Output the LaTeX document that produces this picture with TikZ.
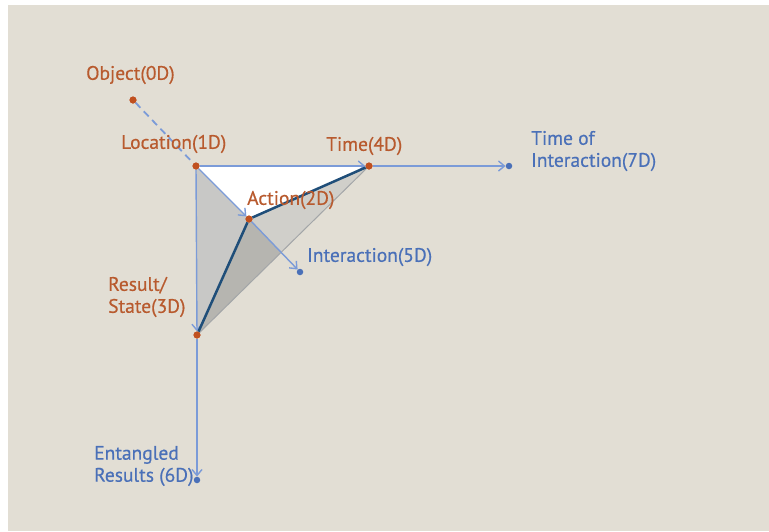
\documentclass[tikz,border=0pt]{standalone}
\usepackage{fontspec}
\setmainfont{PT Sans}
\newfontfamily\labelface{PT Sans}[FakeBold=0.5]
\usetikzlibrary{arrows.meta}

\definecolor{paper}{HTML}{E2DED4}
\definecolor{rust}{HTML}{B85A2E}
\definecolor{dotrust}{HTML}{C0501F}
\definecolor{axisblue}{HTML}{7B9BD8}
\definecolor{labelblue}{HTML}{4A70B8}
\definecolor{navy}{HTML}{1F4E79}
\definecolor{faceleft}{HTML}{C8C8C6}
\definecolor{faceright}{HTML}{D0CFCA}
\definecolor{facedeep}{HTML}{B6B5B0}
\definecolor{ridge}{HTML}{A3A6A8}

\tikzset{
  dim/.style={circle, fill=dotrust, inner sep=0pt, minimum size=7pt},
  outer/.style={circle, fill=labelblue, inner sep=0pt, minimum size=6.5pt},
  axis/.style={draw=axisblue, line width=1.4pt, -{Straight Barb[length=6pt,width=10pt,line width=1.4pt]}},
  edge/.style={draw=navy, line width=2.5pt},
  labelfont/.style={font=\labelface\fontsize{19.5}{22}\selectfont, inner sep=0pt, align=left},
  rustlabel/.style={labelfont, text=rust},
  bluelabel/.style={labelfont, text=labelblue},
}

\begin{document}
\begin{tikzpicture}[x=1pt, y=-1pt]
  \useasboundingbox (0,0) rectangle (769,531);
  \fill[white] (0,0) rectangle (769,531);
  \fill[paper] (8,5) rectangle (769,531);

  % points of the dimension diagram
  \coordinate (objP) at (133,100);
  \coordinate (locP) at (196,166);
  \coordinate (timeP) at (369,166);
  \coordinate (actP) at (249,219);
  \coordinate (resP) at (197,335);
  \coordinate (cross) at (281.1,252.4);

  % faces of the pyramid
  \fill[faceleft] (locP) -- (actP) -- (resP) -- cycle;
  \fill[faceright] (actP) -- (timeP) -- (cross) -- cycle;
  \fill[facedeep] (actP) -- (cross) -- (resP) -- cycle;
  \fill[white] (locP) -- (timeP) -- (actP) -- cycle;
  \draw[ridge, line width=1pt] (resP) -- (timeP);

  % dots
  \node[dim] (obj) at (objP) {};
  \node[dim] (loc) at (locP) {};
  \node[dim] (time) at (timeP) {};
  \node[dim] (act) at (actP) {};
  \node[dim] (res) at (resP) {};
  \node[outer] (inter) at (300,272) {};
  \node[outer] (toi) at (509,166) {};
  \node[outer] (ent) at (197,480) {};

  % axes
  \draw[draw=axisblue, line width=1.8pt, dash pattern=on 7pt off 5pt] (obj) -- (loc);
  \draw[axis] (loc) -- (time);
  \draw[axis] (time) -- (toi);
  \draw[axis] (loc) -- (act);
  \draw[axis] (act) -- (inter);
  \draw[axis] (loc) -- (res);
  \draw[axis] (res) -- (ent);

  % edges through the action point
  \draw[edge] (act) -- (time);
  \draw[edge] (act) -- (res);

  % dots again, above the lines
  \node[dim] at (objP) {};
  \node[dim] at (locP) {};
  \node[dim] at (timeP) {};
  \node[dim] at (actP) {};
  \node[dim] at (resP) {};

  % labels
  \node[rustlabel, anchor=west] (tObj) at (86,75) {Object(0D)};
  \node[rustlabel, anchor=west] (tLoc) at (121,144) {Location(1D)};
  \node[rustlabel, anchor=west] (tTime) at (326,146) {Time(4D)};
  \node[rustlabel, anchor=west] (tAct) at (247,200) {Action(2D)};
  \node[rustlabel, anchor=west] (tRes) at (108,297) {Result/\\State(3D)};
  \node[bluelabel, anchor=west] (tInt) at (307,257) {Interaction(5D)};
  \node[bluelabel, anchor=west] (tEnt) at (94,466) {Entangled\\Results (6D)};
  \node[bluelabel, anchor=west] (tToi) at (531,151) {Time of\\Interaction(7D)};
\end{tikzpicture}
\end{document}
